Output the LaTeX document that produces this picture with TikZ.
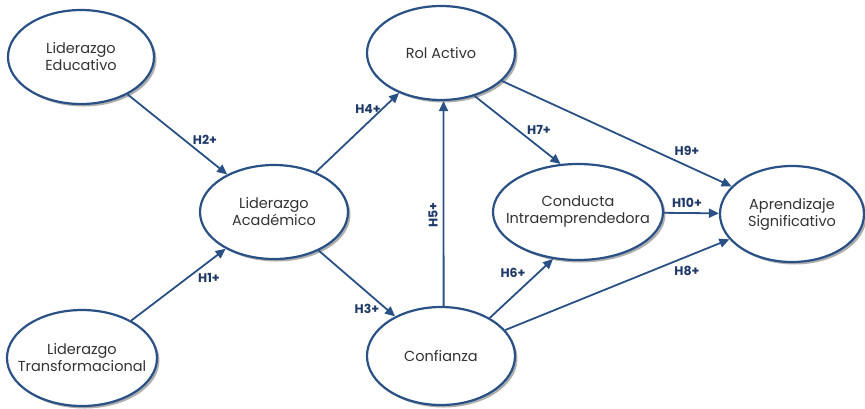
\documentclass[tikz,border=0pt]{standalone}
\usepackage{fontspec}
\setmainfont{Poppins}
\usetikzlibrary{shapes.geometric,arrows.meta,shadows}
\definecolor{edge}{HTML}{2A5185}
\definecolor{lab}{HTML}{1F3A68}
\definecolor{txt}{HTML}{333333}
\tikzset{
  var/.style={ellipse, draw=edge, line width=2.2pt, fill=white, inner sep=-40pt,
    align=center, text=txt, font=\fontsize{14.5}{17}\selectfont,
    drop shadow={shadow xshift=2.5pt, shadow yshift=-2.5pt, fill=black!45, opacity=0.7}},
  path/.style={draw=edge, line width=1.8pt, -{Triangle[length=10pt,width=9pt]}},
  hlab/.style={font=\bfseries\fontsize{12.5}{14}\selectfont, text=lab, inner sep=1pt}
}
\begin{document}
\begin{tikzpicture}[x=1pt,y=-1pt]
\useasboundingbox (0,0) rectangle (865,408);
\node[var, minimum width=146pt, minimum height=94pt] (le) at (81,57) {Liderazgo\\Educativo};
\node[var, minimum width=148pt, minimum height=94pt] (ra) at (441,53) {Rol Activo};
\node[var, minimum width=148pt, minimum height=94pt] (la) at (274,212) {Liderazgo\\Académico};
\node[var, minimum width=170pt, minimum height=96pt] (ci) at (578,212) {Conducta\\Intraemprendedora};
\node[var, minimum width=144pt, minimum height=96pt] (as) at (792,214) {Aprendizaje\\Significativo};
\node[var, minimum width=150pt, minimum height=96pt] (lt) at (82,358) {Liderazgo\\Transformacional};
\node[var, minimum width=148pt, minimum height=98pt] (cf) at (441,356) {Confianza};

\draw[path] (le) -- (la);
\draw[path] (lt) -- (la);
\draw[path] (la) -- (ra);
\draw[path] (la) -- (cf);
\draw[path] (cf.87.5) -- (ra.-87.5);
\draw[path] (ra.-52) -- (ci.110);
\draw[path] (ra) -- (as);
\draw[path] (ci) -- (as);
\draw[path] (cf.38) -- (ci.-118);
\draw[path] (cf) -- (as);

\node[hlab] (h2) at (205,140) {H2+};
\node[hlab] (h1) at (209,278) {H1+};
\node[hlab] (h4) at (368,109) {H4+};
\node[hlab] (h3) at (367,309) {H3+};
\node[hlab, rotate=90] (h5) at (433,215) {H5+};
\node[hlab] (h7) at (539,130) {H7+};
\node[hlab] (h9) at (687,151) {H9+};
\node[hlab] (h10) at (687,203) {H10+};
\node[hlab] (h6) at (513,273) {H6+};
\node[hlab] (h8) at (687,271) {H8+};
\end{tikzpicture}
\end{document}
